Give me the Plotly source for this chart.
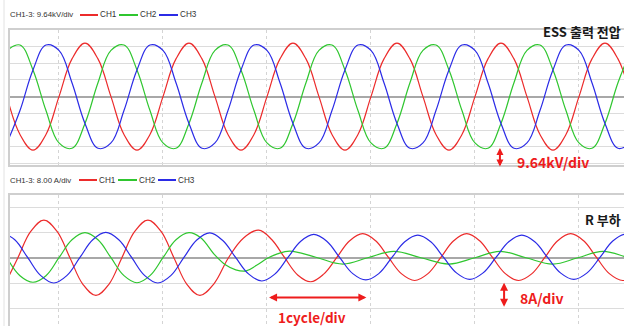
import plotly.graph_objects as go

# ---------------- data (x in divisions = cycles, y in divisions) ----------------
CHANNELS = ["CH1", "CH2", "CH3"]
TOP_HEADER = "CH1-3: 9.64kV/div"
BOT_HEADER = "CH1-3: 8.00 A/div"
TOP_TITLE = "ESS 출력 전압"
BOT_TITLE = "R 부하"
V_SCALE_LABEL = "9.64kV/div"
I_SCALE_LABEL = "8A/div"
T_SCALE_LABEL = "1cycle/div"

# top panel: ESS output voltage (shared sample times)
TOP_T = [-0.5, -0.375, -0.25, -0.125, 0.0, 0.125, 0.25, 0.375,
         0.5, 0.625, 0.75, 0.875, 1.0, 1.125, 1.25, 1.375,
         1.5, 1.625, 1.75, 1.875, 2.0, 2.125, 2.25, 2.375,
         2.5, 2.625, 2.75, 2.875, 3.0, 3.125, 3.25, 3.375,
         3.5, 3.625, 3.75, 3.875, 4.0, 4.125, 4.25, 4.375,
         4.5, 4.625, 4.75, 4.875, 5.0, 5.125, 5.25, 5.375, 5.5]
TOP_CH1 = [0, -2.26, -3.2, -2.26, 0, 2.26, 3.2, 2.26,
           0, -2.26, -3.2, -2.26, 0, 2.26, 3.2, 2.26,
           0, -2.26, -3.2, -2.26, 0, 2.26, 3.2, 2.26,
           0, -2.26, -3.2, -2.26, 0, 2.26, 3.2, 2.26,
           0, -2.26, -3.2, -2.26, 0, 2.26, 3.2, 2.26,
           0, -2.26, -3.2, -2.26, 0, 2.26, 3.2, 2.26, 0]
TOP_CH2 = [2.77, 3.09, 1.6, -0.83, -2.77, -3.09, -1.6, 0.83,
           2.77, 3.09, 1.6, -0.83, -2.77, -3.09, -1.6, 0.83,
           2.77, 3.09, 1.6, -0.83, -2.77, -3.09, -1.6, 0.83,
           2.77, 3.09, 1.6, -0.83, -2.77, -3.09, -1.6, 0.83,
           2.77, 3.09, 1.6, -0.83, -2.77, -3.09, -1.6, 0.83,
           2.77, 3.09, 1.6, -0.83, -2.77, -3.09, -1.6, 0.83, 2.77]
TOP_CH3 = [-2.77, -0.83, 1.6, 3.09, 2.77, 0.83, -1.6, -3.09,
           -2.77, -0.83, 1.6, 3.09, 2.77, 0.83, -1.6, -3.09,
           -2.77, -0.83, 1.6, 3.09, 2.77, 0.83, -1.6, -3.09,
           -2.77, -0.83, 1.6, 3.09, 2.77, 0.83, -1.6, -3.09,
           -2.77, -0.83, 1.6, 3.09, 2.77, 0.83, -1.6, -3.09,
           -2.77, -0.83, 1.6, 3.09, 2.77, 0.83, -1.6, -3.09, -2.77]

# bottom panel: R-load currents (each channel with its own sample times)
BOT_CH1_T = [-0.52, -0.395, -0.27, -0.145, -0.02, 0.105, 0.23, 0.355, 0.48, 0.605,
             0.73, 0.855, 0.98, 1.105, 1.23, 1.355, 1.49, 1.63, 1.775, 1.92,
             2.045, 2.17, 2.295, 2.42, 2.545, 2.67, 2.795, 2.92, 3.045, 3.17,
             3.295, 3.42, 3.545, 3.67, 3.795, 3.92, 4.045, 4.17, 4.295, 4.42,
             4.545, 4.67, 4.795, 4.92, 5.045, 5.17, 5.295, 5.42, 5.545]
BOT_CH1 = [-1.05, 0, 1.05, 1.49, 1.05, 0, -1.05, -1.49, -1.05, 0,
           1.05, 1.49, 1.05, 0, -1.05, -1.49, -1.03, 0, 0.78, 1.09,
           0.72, 0, -0.68, -0.95, -0.65, 0, 0.67, 0.95, 0.67, 0,
           -0.64, -0.9, -0.64, 0, 0.67, 0.95, 0.67, 0, -0.64, -0.9,
           -0.64, 0, 0.67, 0.95, 0.67, 0, -0.64, -0.9, -0.64]

BOT_CH2_T = [-0.5, -0.375, -0.25, -0.125, 0.0, 0.125, 0.25, 0.375, 0.5, 0.625,
             0.75, 0.875, 1.0, 1.125, 1.25, 1.36, 1.5, 1.6, 1.7, 1.8,
             1.9, 2.0, 2.1, 2.22, 2.47, 2.73, 2.97, 3.22, 3.48, 3.75,
             4.0, 4.24, 4.49, 4.75, 4.99, 5.23, 5.48, 5.73]
BOT_CH2 = [0, -0.71, -0.97, -0.71, 0, 0.71, 0.99, 0.71, 0, -0.71,
           -0.99, -0.71, 0, 0.71, 0.99, 0.8, 0.1, -0.28, -0.48, -0.52,
           -0.3, -0.03, 0.15, 0.26, 0.02, -0.25, 0, 0.25, 0, -0.25,
           0, 0.25, 0, -0.25, 0, 0.25, 0, -0.25]

BOT_CH3_T = [-0.55, -0.425, -0.3, -0.175, -0.05, 0.075, 0.2, 0.325, 0.45, 0.575,
             0.7, 0.825, 0.95, 1.075, 1.2, 1.325, 1.45, 1.575, 1.7, 1.825,
             1.95, 2.075, 2.2, 2.325, 2.45, 2.575, 2.7, 2.825, 2.95, 3.075,
             3.2, 3.325, 3.45, 3.575, 3.7, 3.825, 3.95, 4.075, 4.2, 4.325,
             4.45, 4.575, 4.7, 4.825, 4.95, 5.075, 5.2, 5.325, 5.45, 5.575]
BOT_CH3 = [1.0, 0.71, 0, -0.71, -1.0, -0.71, 0, 0.71, 1.0, 0.71,
           0, -0.71, -1.0, -0.71, 0, 0.7, 0.98, 0.68, 0, -0.65,
           -0.92, -0.65, 0, 0.65, 0.92, 0.65, 0, -0.63, -0.88, -0.63,
           0, 0.63, 0.89, 0.63, 0, -0.61, -0.86, -0.61, 0, 0.63,
           0.89, 0.63, 0, -0.61, -0.86, -0.61, 0, 0.66, 0.93, 0.66]

# ---------------- style ----------------
W, H = 624, 326
COLORS = ["#ec2b2b", "#2fc62f", "#2b2be6"]
X_RANGE = [-0.471, 5.433]
TOP_RANGE = [-4.09, 3.99]
BOT_RANGE = [-2.70, 2.48]
NARROW = "Liberation Sans Narrow, Liberation Sans, Arial Narrow, sans-serif"
KR = "Noto Sans CJK KR, Noto Sans, sans-serif"

def px_x(p):
    return p / W

def px_y(p):
    return 1 - p / H

fig = go.Figure()

top_series = [TOP_CH1, TOP_CH2, TOP_CH3]
for name, ys, col in zip(CHANNELS, top_series, COLORS):
    fig.add_trace(go.Scatter(x=TOP_T, y=ys, name=name, mode="lines",
                             line=dict(color=col, width=1.2, shape="spline", smoothing=1.1),
                             xaxis="x", yaxis="y", showlegend=False, hoverinfo="skip"))

bot_series = [(BOT_CH1_T, BOT_CH1), (BOT_CH2_T, BOT_CH2), (BOT_CH3_T, BOT_CH3)]
for name, (xs, ys), col in zip(CHANNELS, bot_series, COLORS):
    fig.add_trace(go.Scatter(x=xs, y=ys, name=name, mode="lines",
                             line=dict(color=col, width=1.2, shape="spline", smoothing=1.1),
                             xaxis="x2", yaxis="y2", showlegend=False, hoverinfo="skip"))

# channel zero-reference markers at the left edge
marker_x = X_RANGE[0] - 4 / 104
for ya in ["y", "y2"]:
    fig.add_trace(go.Scatter(x=[marker_x], y=[0], mode="markers", cliponaxis=False,
                             marker=dict(symbol="triangle-right", size=7, color=COLORS[2]),
                             xaxis="x" if ya == "y" else "x2", yaxis=ya,
                             showlegend=False, hoverinfo="skip"))

xa = dict(domain=[px_x(10), 1], range=X_RANGE, tick0=0, dtick=1, showgrid=True,
          gridcolor="#d4d4d4", griddash="dot", gridwidth=1, zeroline=False,
          showticklabels=False, ticks="", showline=True, linecolor="#cfcfcf",
          linewidth=1.5, mirror=True, fixedrange=True)
ya_common = dict(tick0=0, dtick=1, showgrid=True, gridcolor="#dcdcdc", gridwidth=1.3,
                 zeroline=True, zerolinecolor="#a8a8a8", zerolinewidth=1.8,
                 showticklabels=False, ticks="", showline=True, linecolor="#cfcfcf",
                 linewidth=1.5, mirror=False, fixedrange=True)

fig.update_layout(
    width=W, height=H, margin=dict(l=0, r=0, t=0, b=0),
    paper_bgcolor="white", plot_bgcolor="white",
    xaxis=dict(xa, anchor="y"),
    yaxis=dict(ya_common, domain=[px_y(165), px_y(30)], range=TOP_RANGE, anchor="x"),
    xaxis2=dict(xa, anchor="y2"),
    yaxis2=dict(ya_common, domain=[0, px_y(195)], range=BOT_RANGE, anchor="x2"),
)

shapes = [dict(type="line", xref="paper", yref="paper", x0=px_x(4), x1=px_x(4), y0=0, y1=1,
               line=dict(color="#e2e2e2", width=1))]
annotations = []

# header rows with channel keys
for hdr, ypix, segs, txt_x in [
    (TOP_HEADER, 15, [(80, 98), (119, 138), (159, 178)], [98, 138, 178]),
    (BOT_HEADER, 180, [(79, 97), (118, 137), (158, 176)], [97, 137, 176]),
]:
    annotations.append(dict(text=hdr, xref="paper", yref="paper", x=px_x(8), y=px_y(ypix),
                            xanchor="left", yanchor="middle", showarrow=False,
                            font=dict(family=NARROW, size=7.8, color="#333333")))
    for (a, b), tx, name, col in zip(segs, txt_x, CHANNELS, COLORS):
        shapes.append(dict(type="line", xref="paper", yref="paper", x0=px_x(a), x1=px_x(b),
                           y0=px_y(ypix), y1=px_y(ypix), line=dict(color=col, width=2)))
        annotations.append(dict(text=name, xref="paper", yref="paper", x=px_x(tx), y=px_y(ypix),
                                xanchor="left", yanchor="middle", showarrow=False,
                                font=dict(family=NARROW, size=8.2, color="#333333")))

# panel titles
annotations.append(dict(text="<b>" + TOP_TITLE + "</b>", xref="paper", yref="paper",
                        x=px_x(623), y=px_y(32), xanchor="right", yanchor="middle",
                        showarrow=False, font=dict(family=KR, size=13, color="#1a1a1a")))
annotations.append(dict(text="<b>" + BOT_TITLE + "</b>", xref="paper", yref="paper",
                        x=px_x(623), y=px_y(219), xanchor="right", yanchor="middle",
                        showarrow=False, font=dict(family=KR, size=13, color="#1a1a1a")))

RED = "#ee1c1c"
# scale arrows
annotations.append(dict(text="", x=4.24, y=-3.07, ax=4.24, ay=-4.27, xref="x", yref="y",
                        axref="x", ayref="y", showarrow=True, arrowhead=2, arrowside="end+start",
                        arrowsize=0.7, arrowwidth=2, arrowcolor=RED))
annotations.append(dict(text="", x=4.28, y=-0.99, ax=4.28, ay=-2.0, xref="x2", yref="y2",
                        axref="x2", ayref="y2", showarrow=True, arrowhead=2, arrowside="end+start",
                        arrowsize=0.8, arrowwidth=2, arrowcolor=RED))
annotations.append(dict(text="", x=2.02, y=-1.57, ax=2.97, ay=-1.57, xref="x2", yref="y2",
                        axref="x2", ayref="y2", showarrow=True, arrowhead=2, arrowside="end+start",
                        arrowsize=0.8, arrowwidth=2, arrowcolor=RED))
annotations.append(dict(text="<b>" + V_SCALE_LABEL + "</b>", x=4.385, y=-3.89, xref="x", yref="y",
                        xanchor="left", yanchor="middle", showarrow=False,
                        font=dict(family=KR, size=14, color=RED)))
annotations.append(dict(text="<b>" + I_SCALE_LABEL + "</b>", x=4.41, y=-1.60, xref="x2", yref="y2",
                        xanchor="left", yanchor="middle", showarrow=False,
                        font=dict(family=KR, size=14, color=RED)))
annotations.append(dict(text="<b>" + T_SCALE_LABEL + "</b>", x=2.43, y=-2.34, xref="x2", yref="y2",
                        xanchor="center", yanchor="middle", showarrow=False,
                        font=dict(family=KR, size=13.5, color=RED)))

fig.update_layout(shapes=shapes, annotations=annotations)
fig.write_html("out.html", config={"displayModeBar": False},
               post_script="document.body.style.margin='0';document.body.style.overflow='hidden';")
